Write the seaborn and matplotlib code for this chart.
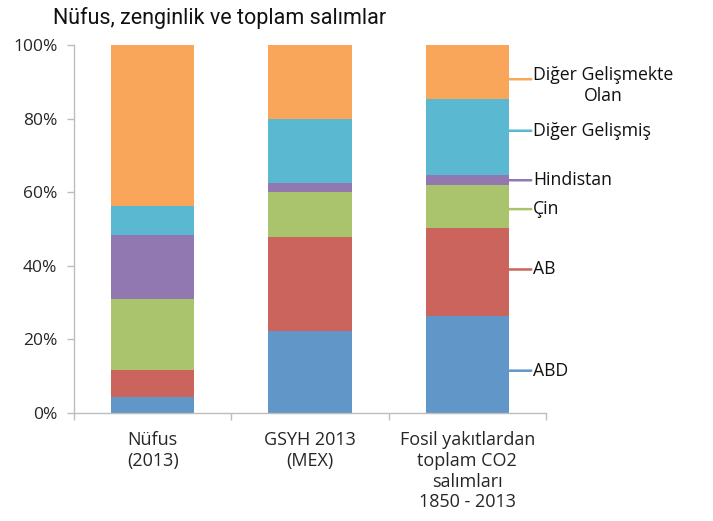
import matplotlib

matplotlib.use("Agg")

import matplotlib.pyplot as plt
import numpy as np
import pandas as pd
import seaborn as sns

CATEGORIES = [
    "Nüfus\n(2013)",
    "GSYH 2013\n(MEX)",
    "Fosil yakıtlardan\ntoplam CO2\nsalımları\n1850 - 2013",
]
SERIES = ["ABD", "AB", "Çin", "Hindistan", "Diğer Gelişmiş", "Diğer Gelişmekte\nOlan"]
ABD = [4.3, 22.3, 26.4]
AB = [7.4, 25.6, 24.0]
CIN = [19.2, 12.2, 11.5]
HINDISTAN = [17.5, 2.5, 2.7]
DIGER_GELISMIS = [7.8, 17.2, 20.8]
DIGER_GELISMEKTE = [43.8, 20.2, 14.6]
Y_TICKS = [0, 20, 40, 60, 80, 100]

COLORS = ["#6096C8", "#CB645C", "#A9C46C", "#9278B0", "#5AB8D0", "#F9A65A"]
AXIS_GREY = "#BDBDBD"
BAR_WIDTH = 0.53
# vertical shifts (in %) of the series labels away from segment middles
LABEL_NUDGE = [-1.7, 0.6, -0.75, 0, 1.7, -2.0]
FONTS = ["Open Sans", "DejaVu Sans"]


def main() -> None:
    sns.set_theme(style="white")
    plt.rcParams["font.family"] = FONTS

    values = np.array([ABD, AB, CIN, HINDISTAN, DIGER_GELISMIS, DIGER_GELISMEKTE])
    cum = values.cumsum(axis=0)

    fig = plt.figure(figsize=(7.13, 5.21), dpi=100)
    ax = fig.add_axes([0.1038, 0.2073, 0.662, 0.7063])

    # overlay cumulative layers, tallest first
    for i in range(len(SERIES) - 1, -1, -1):
        df = pd.DataFrame({"kategori": CATEGORIES, "pay": cum[i]})
        sns.barplot(data=df, x="kategori", y="pay", order=CATEGORIES, color=COLORS[i],
                    saturation=1, width=BAR_WIDTH, linewidth=0, ax=ax)

    ax.set_xlim(-0.5, 2.5)
    ax.set_ylim(0, 100)
    ax.set_xlabel("")
    ax.set_ylabel("")
    ax.set_yticks(Y_TICKS)
    ax.set_yticklabels([f"{t}%" for t in Y_TICKS], fontsize=12.5)
    ax.set_xticks(range(len(CATEGORIES)))
    ax.set_xticklabels(CATEGORIES, fontsize=13, linespacing=1.2)
    ax.set_xticks([-0.5, 0.5, 1.5, 2.5], minor=True)
    ax.tick_params(axis="x", which="major", length=0, pad=13)
    ax.tick_params(axis="x", which="minor", length=5, color=AXIS_GREY, width=1, bottom=True)
    ax.tick_params(axis="y", length=5, color=AXIS_GREY, width=1, left=True, pad=7)

    for side in ["top", "right"]:
        ax.spines[side].set_visible(False)
    for side in ["left", "bottom"]:
        ax.spines[side].set_color(AXIS_GREY)
        ax.spines[side].set_linewidth(1)
    ax.grid(False)

    # series labels with short leader lines at the right of the last bar
    last = len(CATEGORIES) - 1
    bar_edge = last + BAR_WIDTH / 2
    lows = np.concatenate([[0], cum[:-1, last]])
    for i, name in enumerate(SERIES):
        y = (lows[i] + cum[i, last]) / 2 + LABEL_NUDGE[i]
        ax.annotate("", xy=(bar_edge, y), xytext=(16, 0), textcoords="offset points",
                    annotation_clip=False,
                    arrowprops=dict(arrowstyle="-", color=COLORS[i], lw=1.8, shrinkA=0, shrinkB=0))
        ax.annotate(name, xy=(bar_edge, y), xytext=(17.5, -4.5 if "\n" in name else 0),
                    textcoords="offset points", ha="left", va="center", multialignment="center",
                    fontsize=12.7, color="#111111", annotation_clip=False)

    fig.text(0.074, 0.965, "Nüfus, zenginlik ve toplam salımlar", fontsize=15.5,
             family=["Roboto", "DejaVu Sans"],
             ha="left", va="center", color="#111111")

    fig.savefig("out.png", dpi=100)
    plt.close(fig)


if __name__ == "__main__":
    main()
